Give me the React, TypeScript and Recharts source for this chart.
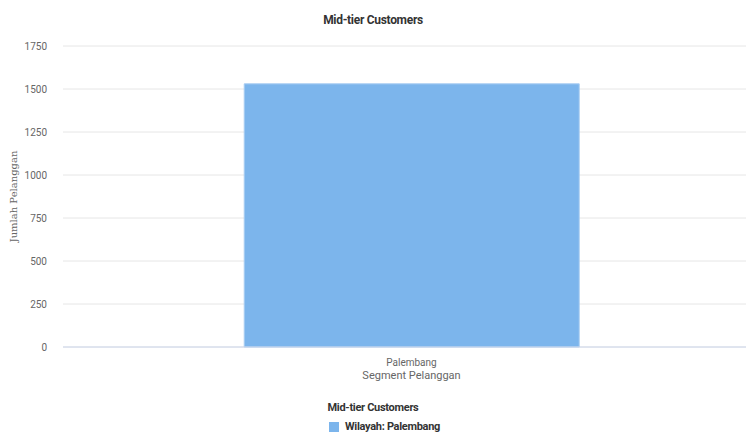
import React from 'react';
import { BarChart, Bar, XAxis, YAxis, CartesianGrid, Label } from 'recharts';

const categories = ['Palembang'];
const customers = [1530];
const yTicks = [0, 250, 500, 750, 1000, 1250, 1500, 1750];

const chartTitle = 'Mid-tier Customers';
const seriesName = 'Wilayah: Palembang';
const barColor = '#7cb5ec';
const font = 'Roboto, "Open Sans", sans-serif';

const data = categories.map((c, i) => ({ segment: c, jumlah: customers[i] }));

const App: React.FC = () => {
  return (
    <div style={{ position: 'absolute', left: 0, top: 0, width: 746, height: 432, overflow: 'hidden', background: '#fff', fontFamily: font }}>
      <div style={{ position: 'absolute', top: 13, left: 0, width: 746, textAlign: 'center', fontSize: 12, fontWeight: 'bold', color: '#333', letterSpacing: -0.3 }}>
        {chartTitle}
      </div>
      <BarChart
        width={760}
        height={432}
        data={data}
        margin={{ top: 46, right: 0, left: 0, bottom: 45 }}
        barCategoryGap="26%"
      >
        <CartesianGrid vertical={false} stroke="#e6e6e6" />
        <XAxis
          dataKey="segment"
          height={40}
          tickLine={false}
          axisLine={{ stroke: '#ccd6eb' }}
          tick={{ fill: '#666', fontSize: 10, fontFamily: font }}
          tickMargin={6}
        >
          <Label value="Segment Pelanggan" position="insideTop" offset={24} style={{ fill: '#666', fontSize: 11, fontFamily: font }} />
        </XAxis>
        <YAxis
          width={63}
          domain={[0, 1750]}
          ticks={yTicks}
          tickLine={false}
          axisLine={false}
          tick={{ fill: '#666', fontSize: 10, fontFamily: font }}
          tickMargin={10}
        >
          <Label
            value="Jumlah Pelanggan"
            angle={-90}
            position="insideLeft"
            offset={13}
            style={{ textAnchor: 'middle', fill: '#666', fontSize: 10, fontFamily: '"DejaVu Serif", serif' }}
          />
        </YAxis>
        <Bar dataKey="jumlah" name={seriesName} fill={barColor} stroke="#a9cdf2" strokeWidth={1} isAnimationActive={false} />
      </BarChart>
      <div style={{ position: 'absolute', top: 401, left: 0, width: 746, textAlign: 'center', fontSize: 11, fontWeight: 'bold', color: '#333', letterSpacing: -0.3 }}>
        {chartTitle}
      </div>
      <div style={{ position: 'absolute', top: 420, left: 329, fontSize: 11, fontWeight: 'bold', color: '#333', display: 'flex', alignItems: 'center', letterSpacing: -0.3 }}>
        <span style={{ display: 'inline-block', width: 10, height: 10, background: barColor, marginRight: 6 }} />
        {seriesName}
      </div>
    </div>
  );
};

export default App;
